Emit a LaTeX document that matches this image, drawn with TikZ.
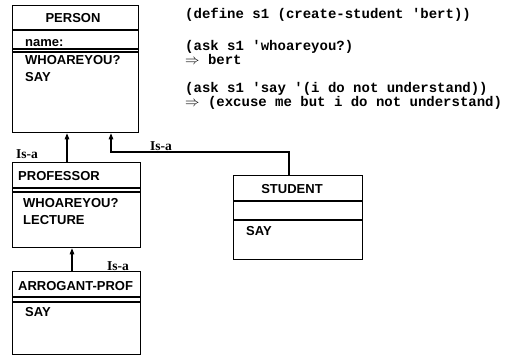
\documentclass[tikz,border=0pt]{standalone}
\usepackage{fontspec}
\setmainfont{Liberation Serif}
\setsansfont{Liberation Sans}
\setmonofont{Liberation Mono}
\usetikzlibrary{arrows.meta}
\tikzset{
 classbox/.style={draw, line width=1.3pt, anchor=north west, inner sep=0pt},
 hdrline/.style={line width=1.1pt},
 sepline/.style={line width=1.7pt},
 cls/.style={font=\fontsize{13}{15}\selectfont\sffamily\bfseries, anchor=base west, inner sep=0pt},
 code/.style={font=\fontsize{14}{16}\selectfont\ttfamily\bfseries, anchor=base west, inner sep=0pt, text height=9.5pt, text depth=2.5pt},
 isalbl/.style={font=\fontsize{13.5}{15}\selectfont\rmfamily\bfseries, anchor=base, inner sep=0pt},
 isa/.style={line width=1.1pt, -{Triangle[length=6pt,width=4.5pt]}},
}
\begin{document}
\begin{tikzpicture}[x=1pt,y=-1pt]
\useasboundingbox (0,0) rectangle (522,356);
% boxes
\node[classbox, minimum width=126pt, minimum height=127pt] (person) at (12,5) {};
\node[classbox, minimum width=128pt, minimum height=85pt] (professor) at (12,162) {};
\node[classbox, minimum width=128pt, minimum height=83pt] (arrogant) at (12,271) {};
\node[classbox, minimum width=129pt, minimum height=84pt] (student) at (233,175) {};
% internal lines
\draw[hdrline] (person.west |- 0,30) -- (person.east |- 0,30);
\draw[hdrline] (person.west |- 0,49) -- (person.east |- 0,49);
\draw[sepline] (person.west |- 0,52) -- (person.east |- 0,52);
\draw[hdrline] (professor.west |- 0,188) -- (professor.east |- 0,188);
\draw[sepline] (professor.west |- 0,192) -- (professor.east |- 0,192);
\draw[hdrline] (arrogant.west |- 0,297) -- (arrogant.east |- 0,297);
\draw[sepline] (arrogant.west |- 0,302) -- (arrogant.east |- 0,302);
\draw[hdrline] (student.west |- 0,201) -- (student.east |- 0,201);
\draw[sepline] (student.west |- 0,220) -- (student.east |- 0,220);
% texts in boxes
\node[cls, anchor=base] (tperson) at (73,22.5) {PERSON};
\node[cls] (tname) at (25,46) {name:};
\node[cls] (tpw) at (25,64.5) {WHOAREYOU?};
\node[cls] (tps) at (25,81) {SAY};
\node[cls] (tprof) at (18,180) {PROFESSOR};
\node[cls] (tprw) at (23,207) {WHOAREYOU?};
\node[cls] (tprl) at (23,224) {LECTURE};
\node[cls] (tarr) at (18,290) {ARROGANT-PROF};
\node[cls, anchor=base] (tstud) at (292,193) {STUDENT};
\node[cls] (tars) at (25,316) {SAY};
\node[cls] (tsts) at (246,235) {SAY};
% connectors
\coordinate (p1) at (67,0);
\draw[isa] (p1 |- professor.north) -- (p1 |- person.south);
\coordinate (a1) at (72,0);
\draw[isa] (a1 |- arrogant.north) -- (a1 |- professor.south);
\coordinate (s0) at (289,152);
\coordinate (s1) at (111,152);
\draw[isa] (s0 |- student.north) -- (s0) -- (s1) -- (s1 |- person.south);
% labels
\node[isalbl] (l1) at (27,158.5) {Is-a};
\node[isalbl] (l2) at (161,150.5) {Is-a};
\node[isalbl] (l3) at (118,270.5) {Is-a};
% code
\node[code] (c1) at (185,18.5) {(define s1 (create-student 'bert))};
\node[code] (c2) at (185,50.5) {(ask s1 'whoareyou?)};
\node[code] (c3) at (185,64.5) {$\Rightarrow$ bert};
\node[code] (c4) at (185,92.5) {(ask s1 'say '(i do not understand))};
\node[code] (c5) at (185,106.5) {$\Rightarrow$ (excuse me but i do not understand)};
\end{tikzpicture}
\end{document}
